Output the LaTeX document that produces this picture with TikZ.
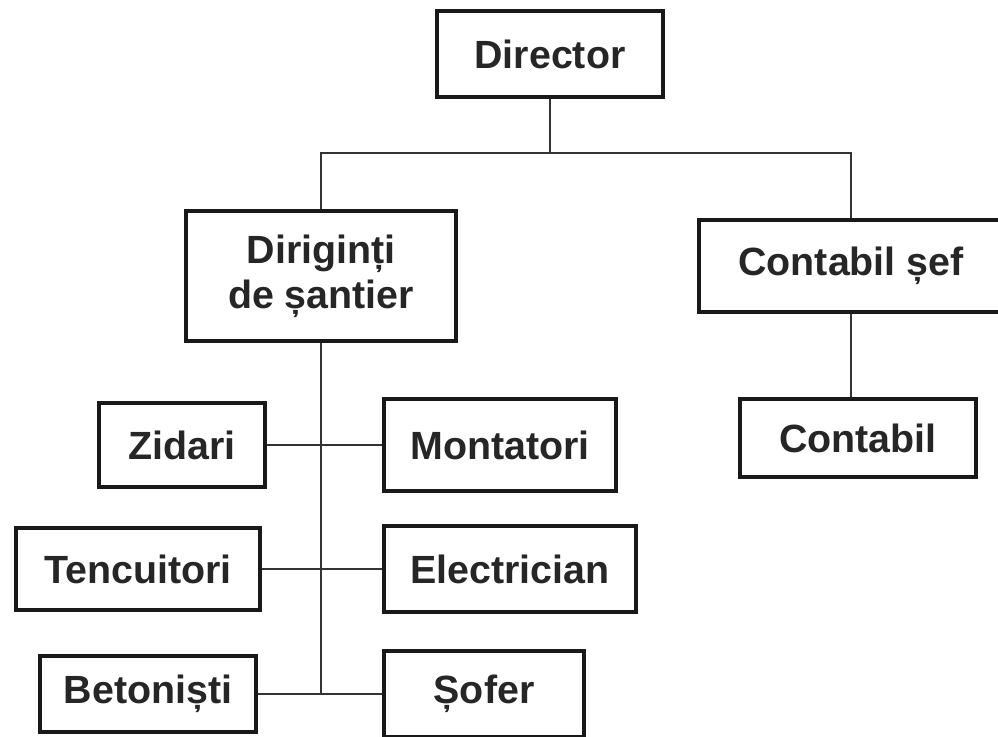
\documentclass[tikz,border=0pt]{standalone}
\usepackage{fontspec}
\setmainfont{Liberation Sans}

\begin{document}
\begin{tikzpicture}[
  x=0.025cm, y=-0.025cm,
  font=\fontsize{28}{32}\selectfont\bfseries,
  % --- boxes and connectors ---
  orgbox/.style={draw=black!90,line width=2.6pt,align=center,
                 text=black!85,inner sep=2pt,fill=white},
  link/.style  ={draw=black!80,line width=0.8pt},
]
\useasboundingbox (0,0) rectangle (998,736);

% ============================ top levels ============================
\node[orgbox,minimum width=5.65cm,minimum height=2.15cm] (director) at (550,54) {Director};
\node[orgbox,minimum width=6.75cm,minimum height=3.25cm] (dirig) at (321,276)
  {Diriginți\\de șantier};
\node[orgbox,minimum width=7.6cm,minimum height=2.3cm] (contsef) at (851,266) {Contabil șef};
\node[orgbox,minimum width=5.9cm,minimum height=1.95cm] (contabil) at (858,438) {Contabil};

% ============================ site teams ============================
\node[orgbox,minimum width=4.15cm,minimum height=2.1cm] (zidari) at (182,445) {Zidari};
\node[orgbox,minimum width=6.1cm,minimum height=2.05cm] (tencuit) at (138,569) {Tencuitori};
\node[orgbox,minimum width=5.4cm,minimum height=1.9cm] (beton) at (148,694) {Betoniști};

\node[orgbox,minimum width=5.8cm,minimum height=2.3cm] (montat) at (500,445) {Montatori};
\node[orgbox,minimum width=6.3cm,minimum height=2.15cm] (electr) at (510,569) {Electrician};
\node[orgbox,minimum width=5.0cm,minimum height=2.15cm] (sofer) at (484,694) {Șofer};

% ============================ connectors ============================
\coordinate (bus) at (0,153);
\draw[link] (director.south) -- (director.south |- bus);
\draw[link] (dirig.north) -- (dirig.north |- bus) -- (contsef.north |- bus) -- (contsef.north);
\draw[link] (contsef.south) -- (contsef.south |- contabil.north);

% trunk under the site managers
\draw[link] (dirig.south) -- (dirig.south |- beton.east);
\draw[link] (zidari)  -- (montat);
\draw[link] (tencuit) -- (electr);
\draw[link] (beton)   -- (sofer);

\end{tikzpicture}
\end{document}
